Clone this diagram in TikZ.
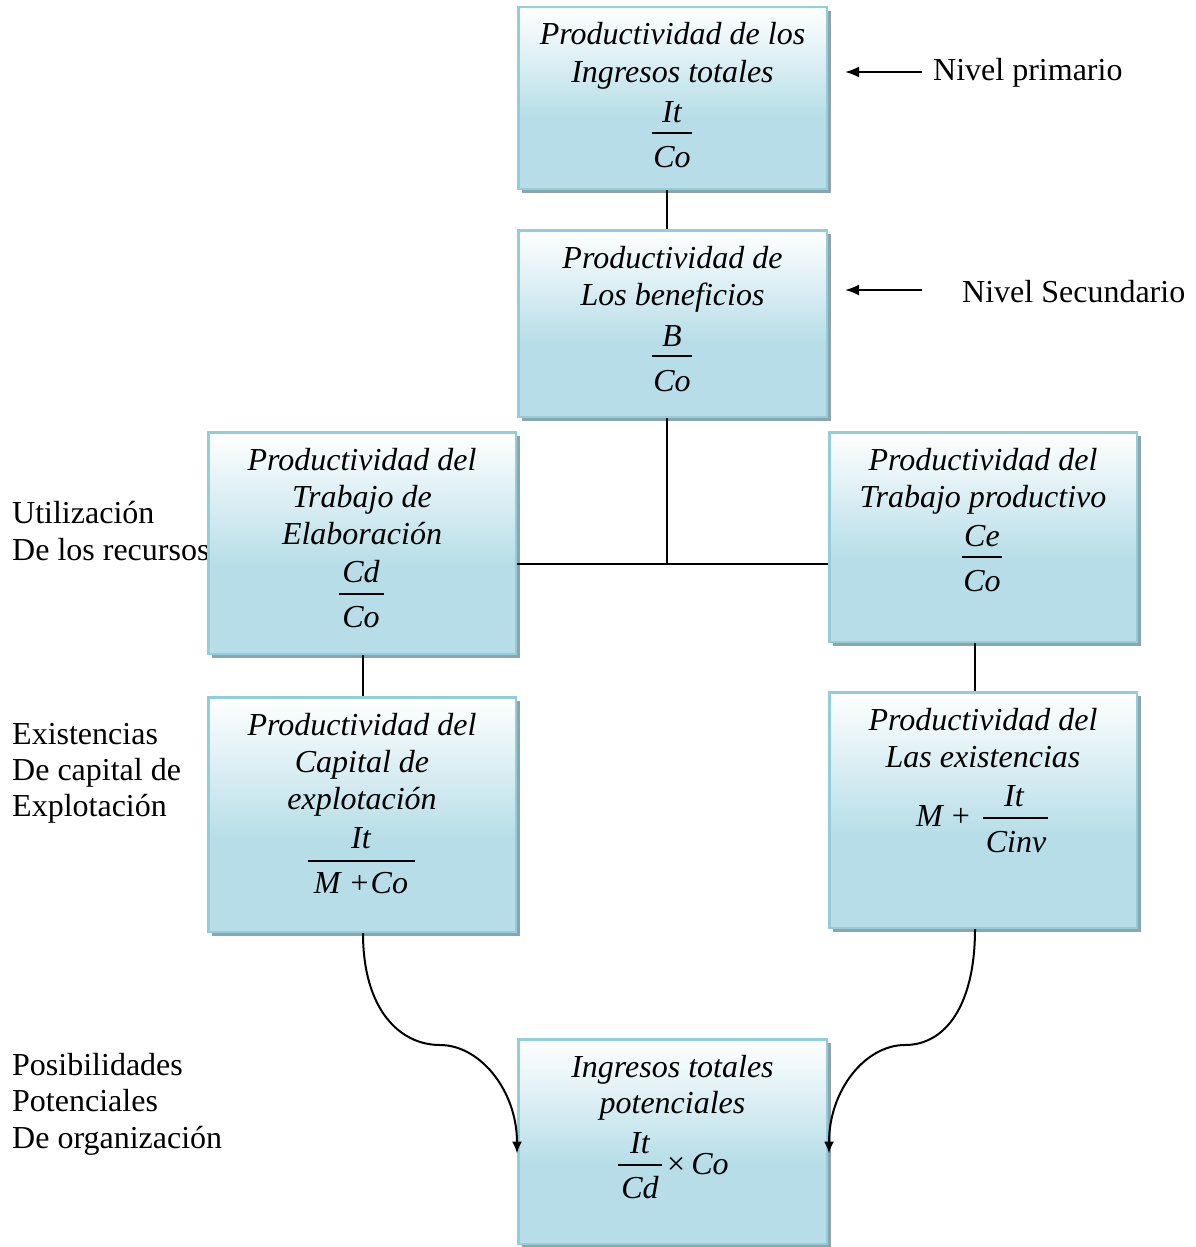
\documentclass[tikz,border=0pt]{standalone}
\usepackage{fontspec}
\setmainfont{Liberation Serif}
\usetikzlibrary{arrows.meta,shadows}
\definecolor{boxblue}{RGB}{183,222,232}
\definecolor{boxedge}{RGB}{146,205,220}
\definecolor{boxshadow}{RGB}{140,165,173}
% white at the top, fading into light blue over the upper part of the box
\pgfdeclareverticalshading{boxgrad}{100bp}{color(0bp)=(boxblue); color(45bp)=(boxblue); color(75bp)=(white); color(100bp)=(white)}

\begin{document}
\begin{tikzpicture}[x=1pt,y=-1pt,
  box/.style={draw=boxedge, line width=2.5pt, shading=boxgrad, inner sep=0pt,
    drop shadow={shadow xshift=4pt, shadow yshift=-4pt, fill=boxshadow, opacity=1}},
  lbl/.style={anchor=base west, inner sep=0pt, font=\fontsize{32}{37}\selectfont},
  it/.style={anchor=base, inner sep=0pt, font=\fontsize{32}{37}\selectfont\itshape},
  itw/.style={anchor=base west, inner sep=0pt, font=\fontsize{32}{37}\selectfont\itshape},
  rule/.style={line width=1.5pt},
  conn/.style={line width=2pt},
  tip/.style={line width=2pt, -{Latex[length=14pt,width=11pt]}},
  curvetip/.style={line width=2pt, -{Latex[length=12pt,width=10pt]}}]

\useasboundingbox (0,0) rectangle (1195,1247);

% side labels
\node[lbl] (u1) at (12,523) {Utilización};
\node[lbl] (u2) at (12,560) {De los recursos};
\node[lbl] (e1) at (12,744) {Existencias};
\node[lbl] (e2) at (12,780) {De capital de};
\node[lbl] (e3) at (12,816) {Explotación};
\node[lbl] (p1) at (12,1075) {Posibilidades};
\node[lbl] (p2) at (12,1111) {Potenciales};
\node[lbl] (p3) at (12,1148) {De organización};
\node[lbl] (np) at (933,81) {Nivel primario};
\node[lbl] (ns) at (962,302) {Nivel Secundario};

% boxes
\node[box, minimum width=308.5pt, minimum height=181.5pt] (b1) at (672.5,98) {};
\node[box, minimum width=308.5pt, minimum height=186.5pt] (b2) at (672.5,323.5) {};
\node[box, minimum width=307.5pt, minimum height=221.5pt] (b3) at (362,543) {};
\node[box, minimum width=307.5pt, minimum height=209.5pt] (b4) at (983,537) {};
\node[box, minimum width=307.5pt, minimum height=234.5pt] (b5) at (362,814.5) {};
\node[box, minimum width=307.5pt, minimum height=235.5pt] (b6) at (983,810) {};
\node[box, minimum width=308.5pt, minimum height=204.5pt] (b7) at (672.5,1141.5) {};

% connectors
\coordinate (j) at (667,564);
\draw[conn] ([xshift=-5.5pt]b1.south) -- ([xshift=-5.5pt]b2.north);
\draw[conn] ([xshift=-5.5pt]b2.south) -- (j);
\draw[conn] (b3.east |- j) -- (b4.west |- j);
\draw[conn] ([xshift=1pt]b3.south) -- ([xshift=1pt]b5.north);
\draw[conn] ([xshift=-8pt]b4.south) -- ([xshift=-8pt]b6.north);
\draw[curvetip] ([xshift=1pt]b5.south) .. controls +(0,77) and +(-40,0) .. (440,1045)
  .. controls +(40,0) and +(0,-63) .. ([xshift=0pt,yshift=-12pt]b7.west);
\draw[curvetip] ([xshift=-8pt]b6.south) .. controls +(0,77) and +(40,0) .. (905,1045)
  .. controls +(-40,0) and +(0,-63) .. ([xshift=1pt,yshift=-12pt]b7.east);

% level pointers
\coordinate (aim1) at (845,72);
\coordinate (aim2) at (845,290);
\draw[tip] ([xshift=-11pt]np.west |- aim1) -- (aim1);
\draw[tip] ([xshift=-40pt]ns.west |- aim2) -- (aim2);

% box 1
\node[it] (b1a) at (672.5,45) {Productividad de los};
\node[it] (b1b) at (672.5,82) {Ingresos totales};
\node[it] (b1n) at (672,122) {It};
\draw[rule] (652,133) -- (692,133);
\node[it] (b1d) at (672,167) {Co};

% box 2
\node[it] (b2a) at (672.5,268) {Productividad de};
\node[it] (b2b) at (672.5,305) {Los beneficios};
\node[it] (b2n) at (672,346) {B};
\draw[rule] (652,356) -- (692,356);
\node[it] (b2d) at (672,391) {Co};

% box 3
\node[it] (b3a) at (362,470) {Productividad del};
\node[it] (b3b) at (362,507) {Trabajo de};
\node[it] (b3c) at (362,544) {Elaboración};
\node[it] (b3n) at (361,582) {Cd};
\draw[rule] (339,594) -- (384,594);
\node[it] (b3d) at (361,627) {Co};

% box 4
\node[it] (b4a) at (983,470) {Productividad del};
\node[it] (b4b) at (983,507) {Trabajo productivo};
\node[it] (b4n) at (982,546) {Ce};
\draw[rule] (962,557) -- (1002,557);
\node[it] (b4d) at (982,591) {Co};

% box 5
\node[it] (b5a) at (362,735) {Productividad del};
\node[it] (b5b) at (362,772) {Capital de};
\node[it] (b5c) at (362,809) {explotación};
\node[it] (b5n) at (361,848) {It};
\draw[rule] (308,861) -- (415,861);
\node[it] (b5d) at (361,893) {M\hspace{10pt}{\upshape+}\hspace{2pt}Co};

% box 6
\node[it] (b6a) at (983,730) {Productividad del};
\node[it] (b6b) at (983,767) {Las existencias};
\node[itw] (b6m) at (916,826) {M\hspace{9pt}{\upshape+}};
\node[it] (b6n) at (1014,806) {It};
\draw[rule] (983,818) -- (1048,818);
\node[it] (b6d) at (1016,852) {Cinv};

% box 7
\node[it] (b7a) at (672.5,1077) {Ingresos totales};
\node[it] (b7b) at (672.5,1113) {potenciales};
\node[it] (b7n) at (640,1153) {It};
\draw[rule] (618,1165) -- (662,1165);
\node[it] (b7d) at (640,1198) {Cd};
\node[itw] (b7x) at (667,1174) {{\upshape×}\hspace{6pt}Co};

\end{tikzpicture}
\end{document}
